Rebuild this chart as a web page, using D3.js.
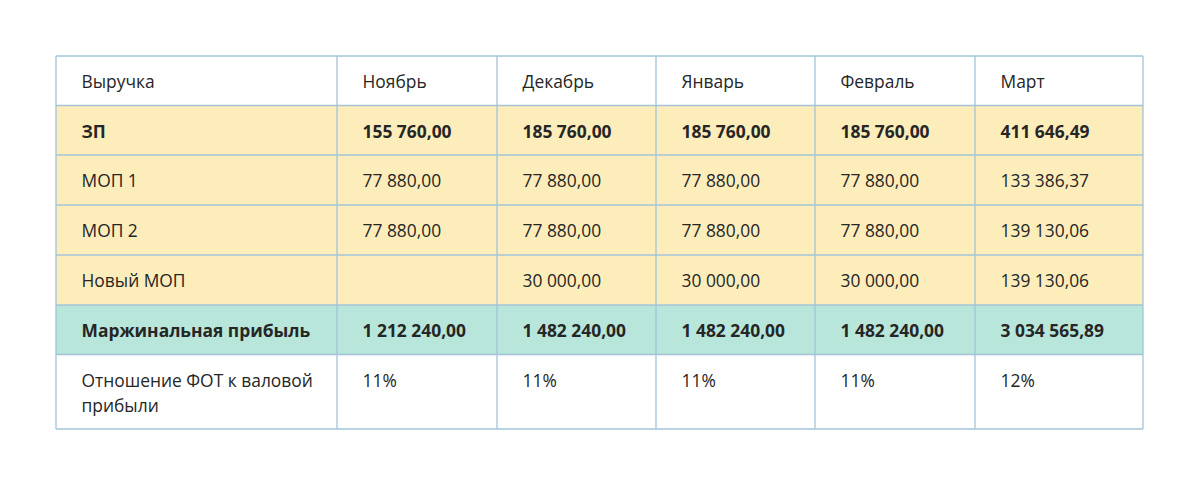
<!DOCTYPE html>
<html><head><meta charset="utf-8">
<script src="https://cdn.jsdelivr.net/npm/d3@7"></script>
<style>body{margin:0;background:#fff}</style>
</head><body>
<script>
const headerLabel = "Выручка";
const months = ["Ноябрь","Декабрь","Январь","Февраль","Март"];
const rowLabels = ["ЗП","МОП 1","МОП 2","Новый МОП","Маржинальная прибыль","Отношение ФОТ к валовой прибыли"];
const zp = ["155 760,00","185 760,00","185 760,00","185 760,00","411 646,49"];
const mop1 = ["77 880,00","77 880,00","77 880,00","77 880,00","133 386,37"];
const mop2 = ["77 880,00","77 880,00","77 880,00","77 880,00","139 130,06"];
const newMop = ["","30 000,00","30 000,00","30 000,00","139 130,06"];
const margin = ["1 212 240,00","1 482 240,00","1 482 240,00","1 482 240,00","3 034 565,89"];
const ratio = ["11%","11%","11%","11%","12%"];

const rows = [
  {label: headerLabel, values: months, kind: "head"},
  {label: rowLabels[0], values: zp, kind: "yellow", bold: true},
  {label: rowLabels[1], values: mop1, kind: "yellow"},
  {label: rowLabels[2], values: mop2, kind: "yellow"},
  {label: rowLabels[3], values: newMop, kind: "yellow"},
  {label: rowLabels[4], values: margin, kind: "teal", bold: true},
  {label: rowLabels[5], values: ratio, kind: "white", lines: ["Отношение ФОТ к валовой","прибыли"]}
];
const fills = {head: "#ffffff", yellow: "#fdedbb", teal: "#b8e6da", white: "#ffffff"};

const W = 1200, H = 486;
const svg = d3.select("body").append("svg").attr("width", W).attr("height", H)
  .style("font-family", "'Open Sans', 'Noto Sans', sans-serif");

const colKeys = ["label"].concat(months);
const colEdges = [56, 337, 497, 656, 815, 975, 1143];
const x = d3.scaleOrdinal().domain(colKeys).range(colEdges.slice(0, -1));
const rowIdx = d3.range(rows.length);
const rowEdges = [56, 105.5, 155, 205, 255, 305, 354.5, 429];
const y = d3.scaleOrdinal().domain(rowIdx).range(rowEdges.slice(0, -1));
const yEnd = d3.scaleOrdinal().domain(rowIdx).range(rowEdges.slice(1));

const g = svg.append("g");
const rowG = g.selectAll("g.row").data(rows).join("g").attr("class", "row");
rowG.append("rect")
  .attr("x", colEdges[0]).attr("y", (d, i) => y(i))
  .attr("width", colEdges[colEdges.length - 1] - colEdges[0])
  .attr("height", (d, i) => yEnd(i) - y(i))
  .attr("fill", d => fills[d.kind]);

const pad = 25.5;
rowG.each(function(d, i) {
  const sel = d3.select(this);
  const cells = [{key: "label", text: d.label, lines: d.lines}].concat(
    d.values.map((v, j) => ({key: months[j], text: v})));
  sel.selectAll("text.cell").data(cells).join("text").attr("class", "cell")
    .attr("x", c => x(c.key) + pad)
    .attr("y", y(i) + 32)
    .attr("fill", "#262626")
    .attr("font-size", 17.4)
    .attr("font-weight", d.bold ? 700 : 400)
    .each(function(c) {
      const t = d3.select(this);
      if (c.lines) {
        c.lines.forEach((ln, k) => t.append("tspan").attr("x", x(c.key) + pad).attr("dy", k ? 25 : 0).text(ln));
      } else t.text(c.text);
    });
});

// grid lines
const stroke = "#a3c4d8";
g.selectAll("line.h").data(rowEdges).join("line").attr("class", "h")
  .attr("x1", colEdges[0]).attr("x2", colEdges[colEdges.length - 1])
  .attr("y1", d => d).attr("y2", d => d)
  .attr("stroke", stroke).attr("stroke-width", 1.3);
g.selectAll("line.v").data(colEdges).join("line").attr("class", "v")
  .attr("x1", d => d).attr("x2", d => d)
  .attr("y1", rowEdges[0]).attr("y2", rowEdges[rowEdges.length - 1])
  .attr("stroke", stroke).attr("stroke-width", 1.3);
</script>
</body></html>
